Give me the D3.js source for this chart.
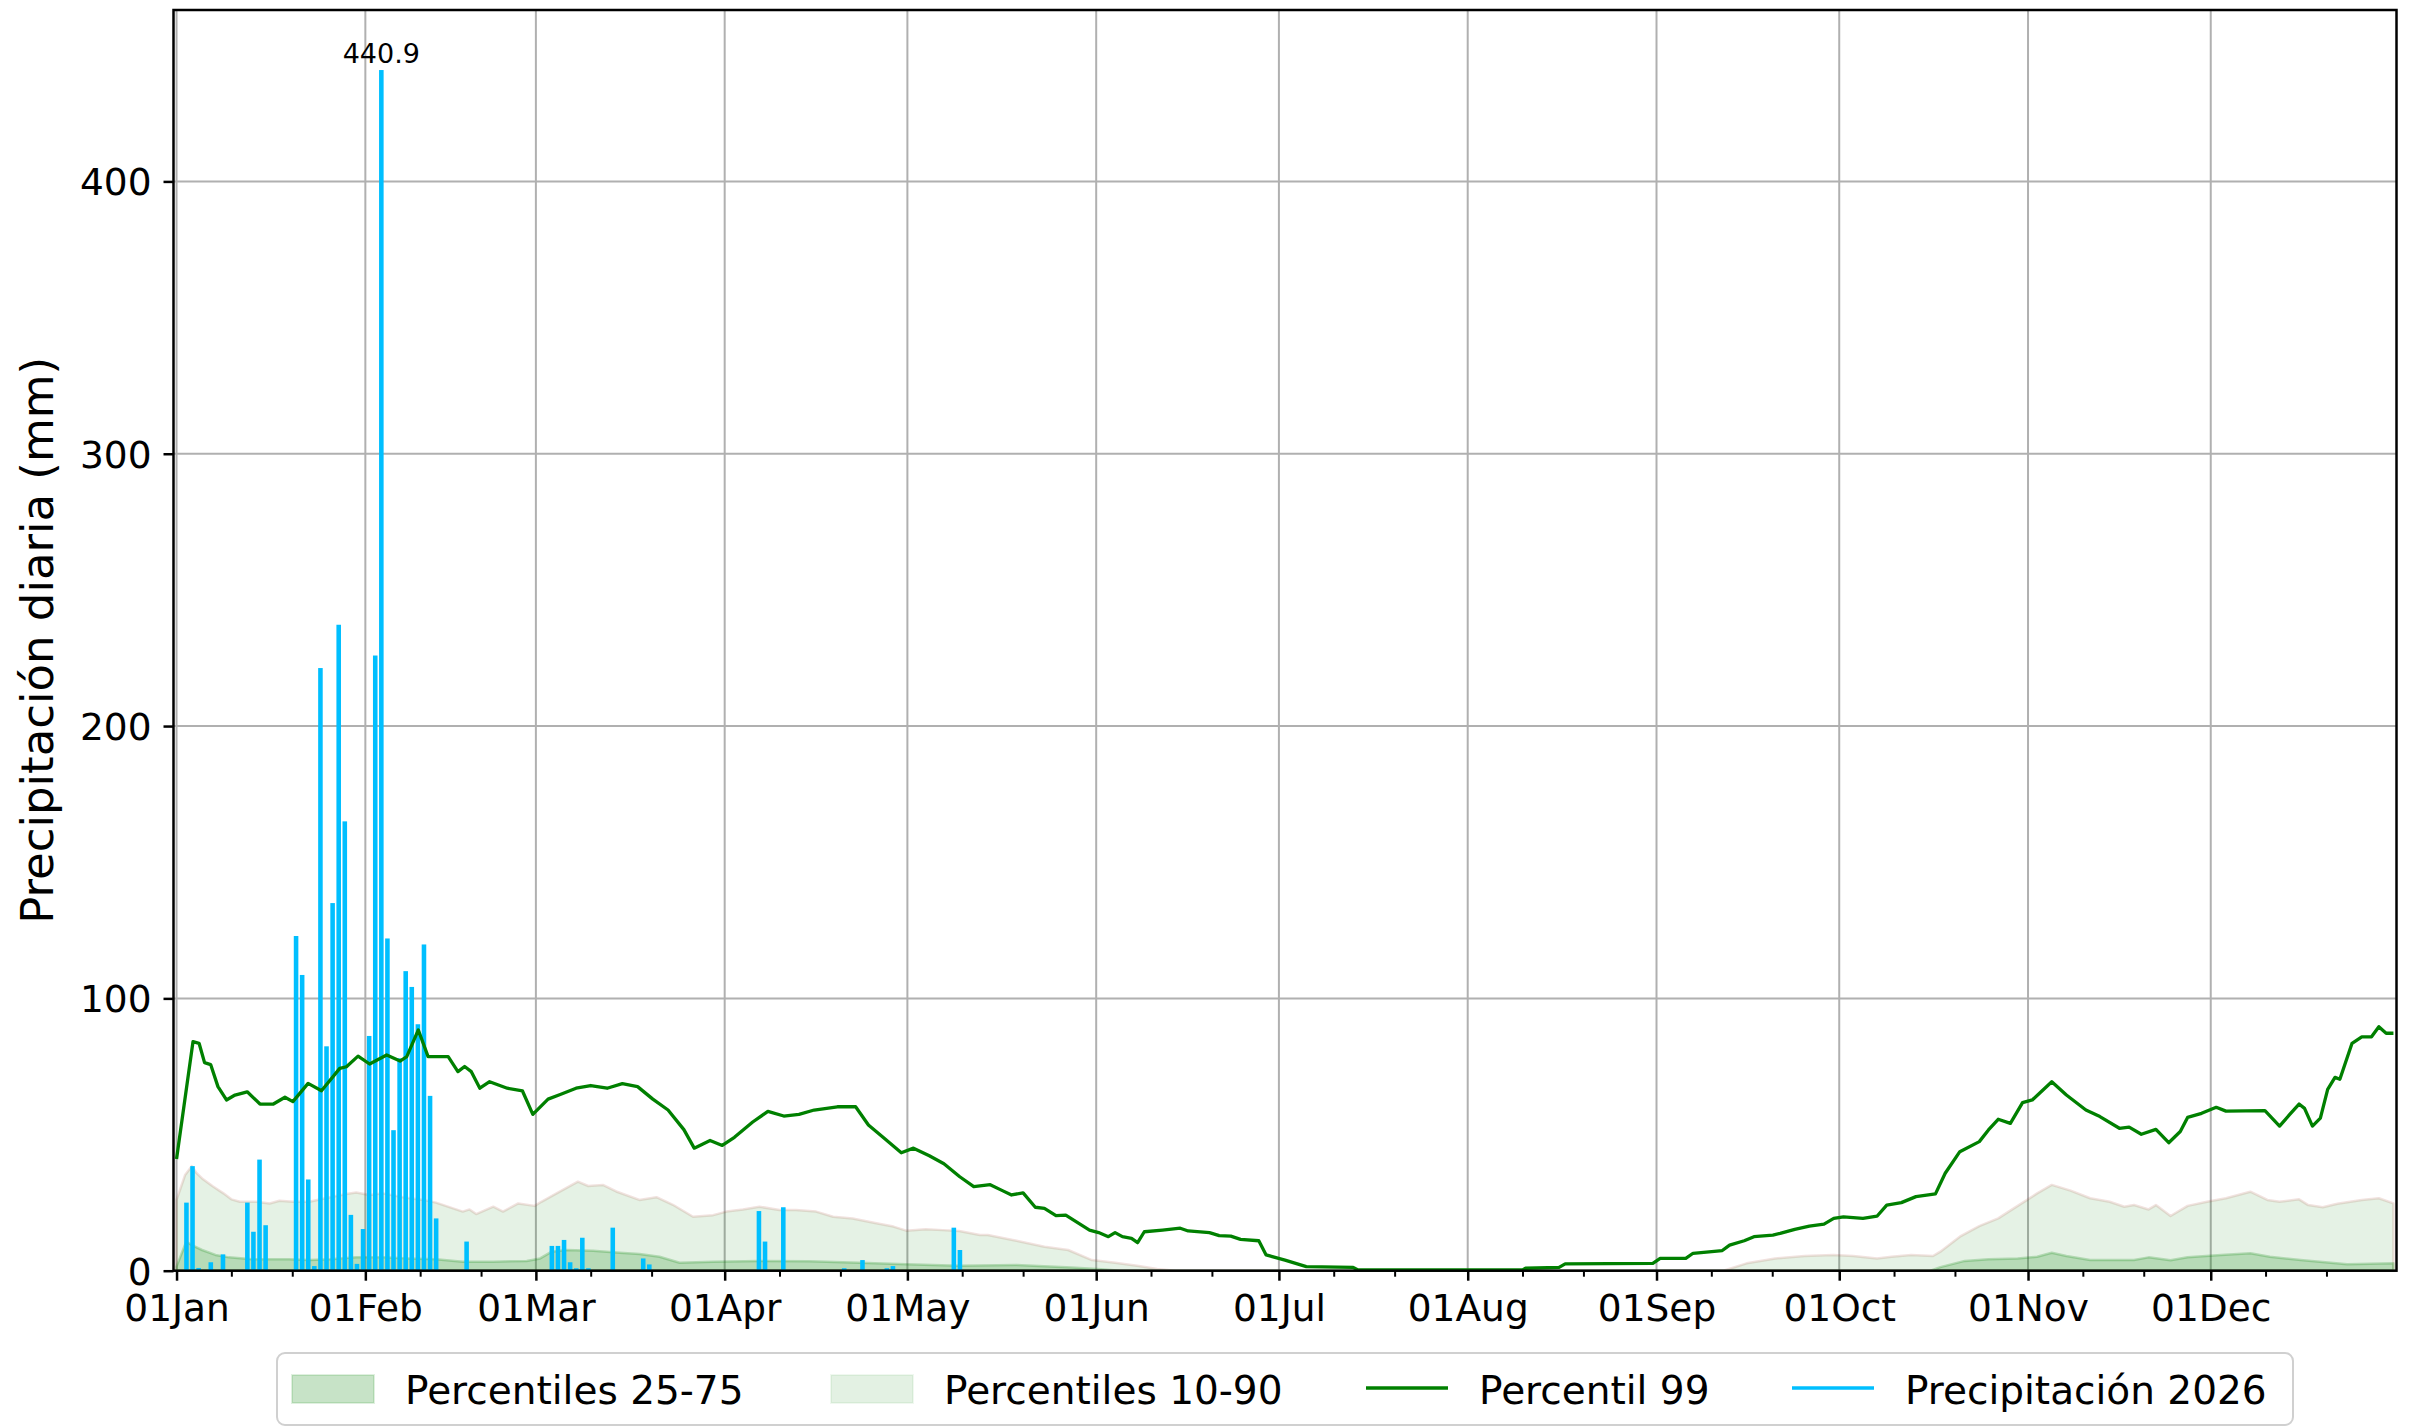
<!DOCTYPE html>
<html>
<head>
<meta charset="utf-8">
<script src="https://cdn.jsdelivr.net/npm/d3@7"></script>
<style>
    body { margin: 0; background: #ffffff; }
    svg { display: block; }
    text { font-family: "DejaVu Sans", sans-serif; fill: #000; }
</style>
</head>
<body>
<div id="chart"></div>
<script>
// daily precipitation 2026 (mm)
const rainDates = [
    "2026-01-02", "2026-01-03", "2026-01-04", "2026-01-06", "2026-01-08",
    "2026-01-12", "2026-01-13", "2026-01-14", "2026-01-15",
    "2026-01-20", "2026-01-21", "2026-01-22", "2026-01-23", "2026-01-24",
    "2026-01-25", "2026-01-26", "2026-01-27", "2026-01-28", "2026-01-29",
    "2026-01-30", "2026-01-31", "2026-02-01", "2026-02-02", "2026-02-03",
    "2026-02-04", "2026-02-05", "2026-02-06", "2026-02-07", "2026-02-08",
    "2026-02-09", "2026-02-10", "2026-02-11", "2026-02-12", "2026-02-17",
    "2026-03-03", "2026-03-04", "2026-03-05", "2026-03-06", "2026-03-07",
    "2026-03-08", "2026-03-09", "2026-03-13", "2026-03-18", "2026-03-19",
    "2026-04-06", "2026-04-07", "2026-04-10", "2026-04-20", "2026-04-23",
    "2026-04-27", "2026-04-28", "2026-05-08", "2026-05-09"
];
const rainValues = [
    25.0, 38.4, 1.0, 3.1, 6.0,
    25.0, 14.3, 40.8, 16.7,
    122.9, 108.6, 33.5, 1.7, 221.3,
    82.4, 135.0, 237.2, 165.0, 20.5,
    2.5, 15.3, 86.2, 225.9, 440.9,
    122.0, 51.6, 78.0, 110.0, 104.2,
    90.5, 119.8, 64.2, 19.2, 10.7,
    9.1, 9.1, 11.3, 3.1, 0.9,
    12.1, 0.9, 15.8, 4.5, 2.3,
    21.9, 10.7, 23.3, 0.9, 3.9,
    0.9, 1.7, 15.8, 7.6
];

// climatology, days counted from 01Jan
const p99Days = [0, 2.7, 3.7, 4.6, 5.6, 6.8, 8.2, 9.6, 11.6, 13.7, 15.9, 17.8, 19.1, 21.6, 23.8, 26.8, 27.9, 29.8, 31.7, 34.5,
    36.7, 37.8, 39.7, 41.3, 44.6, 46.2, 47.3, 48.4, 49.8, 51.4, 54.3, 56.8, 58.5, 61, 63, 65.6, 68, 70.7, 73.2, 75.7,
    78.2, 80.7, 83.3, 85, 87.6, 89.6, 91.6, 94.6, 97.1, 99.7, 102.2, 104.7, 108.5, 111.5, 113.6, 116, 119, 121, 123.6, 126,
    128.6, 130.9, 133.6, 135.6, 137.1, 139, 141, 142.5, 144.4, 146, 149.9, 151.4, 153, 154.1, 155.3, 156.8, 157.8, 158.9, 161.9, 164.8,
    166.1, 169.6, 171.2, 173.1, 174.7, 177.7, 178.9, 182, 185.5, 193.2, 194, 221, 221.5, 227, 228, 242.4, 243.6, 247.8, 249, 253.8,
    255, 257.4, 259, 262.1, 263.3, 265.7, 268.1, 270.5, 272.1, 273.7, 276.9, 279.2, 280.8, 283.2, 285.6, 288.8, 290.4, 292.8, 296, 297.5,
    299.1, 301.1, 303.1, 304.7, 307.9, 310.3, 313.5, 315.8, 319, 320.6, 322.6, 325, 327.1, 329, 330.2, 332.5, 334.9, 336.5, 342.9, 345.3,
    346.9, 348.5, 349.4, 350.7, 352, 353.2, 354.4, 355.2, 357.2, 358.8, 360.4, 361.6, 362.8, 364];
const p99Values = [41, 84.1, 83.5, 76.4, 75.7, 67.6, 62.7, 64.5, 65.7, 61.2, 61.2, 63.7, 62.1, 68.8, 66.1, 74.3, 74.9, 78.8, 75.9, 79.2,
    77, 78.6, 88.4, 78.6, 78.6, 73.1, 75, 73.1, 67, 69.4, 67, 66, 57.4, 63, 64.7, 67, 68, 67, 68.7, 67.6,
    63, 59, 51.8, 45, 47.8, 46, 49, 54.6, 58.5, 56.8, 57.4, 59, 60.2, 60.2, 53.5, 49, 43.3, 45, 42.2, 39.3,
    34.5, 30.9, 31.6, 29.4, 27.8, 28.6, 23.3, 22.9, 20.2, 20.4, 14.9, 14, 12.5, 14, 12.5, 11.9, 10.3, 14.3, 14.9, 15.6,
    14.6, 14, 12.9, 12.7, 11.5, 11, 5.8, 3.9, 1.5, 1.2, 0.3, 0.3, 0.9, 1.2, 2.5, 2.7, 4.5, 4.5, 6.4, 7.4,
    9.4, 11, 12.5, 13.1, 13.7, 15.2, 16.4, 17.1, 19.2, 19.8, 19.2, 20, 24.1, 25, 27.2, 28.2, 35.8, 43.7, 47.4, 51.7,
    55.6, 54.1, 61.7, 62.7, 69.4, 64.5, 59, 56.6, 52.3, 52.7, 50.1, 51.9, 47, 51.1, 56.3, 57.8, 60, 58.6, 58.8, 53.1,
    57.2, 61.2, 59.6, 53.1, 56, 66.6, 71, 70.3, 83.5, 85.9, 85.9, 89.6, 87.2, 87.2];

const p90Days = [0, 1.4, 2.5, 3.3, 4.2, 6, 7.7, 9, 10.4, 13.1, 15.3, 16.9, 19.1, 21.8, 25.2, 27.9, 29.5, 31.7, 33.9, 37.2,
    40.5, 42.6, 45.4, 47, 48.1, 49.2, 52, 53.6, 56.1, 58.8, 59.9, 62.4, 65.9, 67.6, 70, 72.2, 76, 78.8, 81.5, 84.8,
    88.1, 90.3, 93, 95.7, 99, 101.7, 105, 107.8, 111, 114.9, 117.7, 119.8, 123, 125.8, 128.5, 131.9, 133.2, 137.9, 142.5, 146.4,
    150.3, 154.1, 158, 161, 164, 254, 257.8, 262.5, 267.3, 272, 275.3, 279.2, 281.6, 284.8, 288.4, 289.6, 292.8, 296, 299.1, 302.3,
    305.5, 307.9, 311, 314.2, 317.4, 319.8, 321.4, 323.8, 325, 327.4, 330.2, 333.4, 336.5, 340.5, 343.3, 345.3, 348.5, 350, 352.4, 354.8,
    358.8, 361.6, 364];
const p90Values = [26, 35.1, 38.4, 35.8, 33.9, 30.9, 28.4, 26.2, 25.3, 25.3, 24.7, 25.7, 25.3, 25.3, 27, 28.2, 28.7, 27.8, 28.4, 27,
    26, 25, 22.9, 21.7, 22.5, 20.8, 23.5, 21.7, 24.7, 23.8, 25.3, 28.4, 32.7, 31.1, 31.5, 29.1, 26, 27, 24.2, 19.8,
    20.4, 21.7, 22.5, 23.5, 22.3, 22.3, 21.7, 19.8, 19.2, 17.4, 16.2, 14.7, 15.2, 14.9, 14.6, 13.1, 13.1, 11, 8.8, 7.6,
    3.9, 2.9, 1.7, 0.6, 0, 0, 2.7, 4.5, 5.4, 5.8, 5.4, 4.5, 5.1, 5.8, 5.4, 7, 12.5, 16.4, 19.2, 23.8,
    28.4, 31.5, 29.4, 26.6, 25.3, 23.5, 24.1, 22.5, 24.1, 20.1, 23.8, 25.3, 26.6, 29, 26, 25.3, 26.2, 24.1, 23.3, 24.6,
    26, 26.6, 24.7];

const p75Days = [0, 1.6, 2.5, 4.2, 6.4, 8.6, 12.4, 15.1, 18.4, 21.8, 25.2, 29.5, 33.9, 38.2, 42.6, 47, 52, 57.5, 59.7, 61.6,
    64, 68.4, 72.8, 76, 79.3, 82.6, 88.1, 95.7, 103.9, 112.1, 119.8, 128.5, 137.9, 147, 151.8, 155, 288, 289.6, 293.6, 297.5,
    302.3, 305.5, 307.9, 310.3, 314.2, 321.4, 323.8, 327.4, 330.2, 335.7, 340.5, 343.7, 349.2, 356.4, 364];
const p75Values = [1.5, 10.7, 9.4, 7.6, 5.8, 4.9, 4.2, 4.2, 4.2, 3.9, 4.2, 4.9, 4.9, 4.5, 4.2, 3.3, 3.3, 3.6, 4.5, 7,
    7.6, 7.3, 6.6, 6.1, 5.1, 2.9, 3.3, 3.6, 3.5, 2.9, 2.4, 1.8, 2.1, 1.2, 0.5, 0, 0, 1.3, 3.6, 4.2,
    4.5, 5.1, 6.6, 5.4, 3.9, 3.9, 4.9, 3.8, 4.9, 5.8, 6.4, 5.1, 3.8, 2.4, 2.7];

const p25Days = [0, 364];
const p25Values = [0, 0];
const p10Days = [0, 364];
const p10Values = [0, 0];

// axis ticks and legend labels
const monthTickDates = ["2026-01-01", "2026-02-01", "2026-03-01", "2026-04-01", "2026-05-01", "2026-06-01",
    "2026-07-01", "2026-08-01", "2026-09-01", "2026-10-01", "2026-11-01", "2026-12-01"];
const yTickValues = [0, 100, 200, 300, 400];
const legendLabels = ["Percentiles 25-75", "Percentiles 10-90", "Percentil 99", "Precipitación 2026"];

function drawChart() {
    const W = 2410, H = 1427;
    const margin = { top: 10, left: 173.5, right: 13.5, bottom: 156.3 };
    const width = W - margin.left - margin.right;
    const height = H - margin.top - margin.bottom;

    const parse = d3.utcParse("%Y-%m-%d");
    const dayMs = 864e5;
    const t0 = Date.UTC(2026, 0, 1);
    const fromDay = d => new Date(t0 + d * dayMs);

    const svg = d3.select("#chart")
        .append("svg")
        .attr("width", W)
        .attr("height", H);

    const g = svg.append("g")
        .attr("transform", `translate(${margin.left},${margin.top})`);

    // scales
    const x = d3.scaleUtc()
        .domain([fromDay(-0.5), fromDay(364.5)])
        .range([0, width]);
    const yMax = d3.max(rainValues) * 1.05;
    const y = d3.scaleLinear()
        .domain([0, yMax])
        .range([height, 0]);
    const dayPx = x(fromDay(1)) - x(fromDay(0));

    const monthTicks = monthTickDates.map(parse);
    const minorTicks = d3.utcDay.range(fromDay(0), fromDay(365))
        .filter(d => d.getUTCDate() === 10 || d.getUTCDate() === 20);

    // grid
    const grid = g.append("g").attr("stroke", "#b0b0b0").attr("stroke-width", 2);
    grid.selectAll(".vg")
        .data(monthTicks)
        .join("line")
        .attr("x1", d => x(d)).attr("x2", d => x(d))
        .attr("y1", 0).attr("y2", height);
    grid.selectAll(".hg")
        .data(yTickValues)
        .join("line")
        .attr("x1", 0).attr("x2", width)
        .attr("y1", d => y(d)).attr("y2", d => y(d));

    // percentile bands
    const toPts = (days, vals) => days.map((d, i) => [x(fromDay(d)), y(vals[i])]);
    const band = (hiDays, hiVals, loDays, loVals) =>
        d3.line()([...toPts(hiDays, hiVals), ...toPts(loDays, loVals).reverse()]) + "Z";

    g.append("path")
        .attr("d", band(p90Days, p90Values, p10Days, p10Values))
        .attr("fill", "rgba(0,128,0,0.1)")
        .attr("stroke", "rgba(160,60,40,0.15)")
        .attr("stroke-width", 2.5)
        .attr("stroke-linejoin", "round");

    g.append("path")
        .attr("d", band(p75Days, p75Values, p25Days, p25Values))
        .attr("fill", "rgba(0,128,0,0.2)")
        .attr("stroke", "rgba(0,128,0,0.22)")
        .attr("stroke-width", 2.5)
        .attr("stroke-linejoin", "round");

    // precipitation bars
    const rain = rainDates.map((d, i) => ({ date: parse(d), value: rainValues[i] }));
    g.append("g")
        .selectAll("rect")
        .data(rain)
        .join("rect")
        .attr("x", d => x(d.date) + dayPx * 0.25)
        .attr("width", dayPx * 0.75)
        .attr("y", d => y(d.value))
        .attr("height", d => y(0) - y(d.value))
        .attr("fill", "#00bfff");

    // percentile 99 line
    const line = d3.line()
        .x(d => x(fromDay(d[0])))
        .y(d => y(d[1]));
    g.append("path")
        .datum(p99Days.map((d, i) => [d, p99Values[i]]))
        .attr("fill", "none")
        .attr("stroke", "#008000")
        .attr("stroke-width", 3.3)
        .attr("stroke-linejoin", "round")
        .attr("d", line);

    // label on the maximum
    const top = rain.reduce((a, b) => (b.value > a.value ? b : a));
    g.append("text")
        .attr("x", x(top.date) + dayPx * 0.625)
        .attr("y", y(top.value) - 7)
        .attr("text-anchor", "middle")
        .attr("font-size", "27px")
        .text(top.value.toFixed(1));

    // frame
    g.append("rect")
        .attr("width", width)
        .attr("height", height)
        .attr("fill", "none")
        .attr("stroke", "#000")
        .attr("stroke-width", 2.5);

    // axes
    const xAxis = g.append("g")
        .attr("transform", `translate(0,${height})`)
        .call(d3.axisBottom(x)
            .tickValues(monthTicks)
            .tickFormat(d3.utcFormat("%d%b"))
            .tickSize(10)
            .tickSizeOuter(0)
            .tickPadding(13));
    xAxis.select(".domain").remove();
    xAxis.selectAll("line").attr("stroke", "#000").attr("stroke-width", 2.5);
    xAxis.selectAll("text")
        .attr("font-size", "37.5px")
        .attr("font-family", "DejaVu Sans")
        .attr("dy", "0.74em");

    const xMinor = g.append("g")
        .attr("transform", `translate(0,${height})`)
        .call(d3.axisBottom(x)
            .tickValues(minorTicks)
            .tickFormat("")
            .tickSize(6)
            .tickSizeOuter(0));
    xMinor.select(".domain").remove();
    xMinor.selectAll("line").attr("stroke", "#000").attr("stroke-width", 2);

    const yAxis = g.append("g")
        .call(d3.axisLeft(y)
            .tickValues(yTickValues)
            .tickSize(10)
            .tickSizeOuter(0)
            .tickPadding(12));
    yAxis.select(".domain").remove();
    yAxis.selectAll("line").attr("stroke", "#000").attr("stroke-width", 2.5);
    yAxis.selectAll("text")
        .attr("font-size", "37.5px")
        .attr("font-family", "DejaVu Sans")
        .attr("dy", "0.36em");

    // y label
    svg.append("text")
        .attr("transform", `translate(53,${margin.top + height / 2}) rotate(-90)`)
        .attr("text-anchor", "middle")
        .attr("font-size", "45px")
        .text("Precipitación diaria (mm)");

    // legend
    const lg = svg.append("g");
    lg.append("rect")
        .attr("x", 277).attr("y", 1353)
        .attr("width", 2016).attr("height", 72)
        .attr("rx", 8)
        .attr("fill", "rgba(255,255,255,0.8)")
        .attr("stroke", "#d0d0d0")
        .attr("stroke-width", 2);

    const handleX = [292, 831, 1366, 1792];
    const items = lg.selectAll(".item")
        .data(legendLabels)
        .join("g")
        .attr("transform", (d, i) => `translate(${handleX[i]},1388)`);

    items.filter((d, i) => i < 2)
        .append("rect")
        .attr("x", 0).attr("y", -13)
        .attr("width", 82).attr("height", 28)
        .attr("fill", (d, i) => i === 0 ? "rgba(0,128,0,0.22)" : "rgba(0,128,0,0.11)")
        .attr("stroke", (d, i) => i === 0 ? "rgba(0,128,0,0.12)" : "rgba(0,128,0,0.06)")
        .attr("stroke-width", 2);

    items.filter((d, i) => i >= 2)
        .append("line")
        .attr("x1", 0).attr("x2", 82)
        .attr("stroke", (d, i) => i === 0 ? "#008000" : "#00bfff")
        .attr("stroke-width", 3.7);

    items.append("text")
        .attr("x", 113)
        .attr("y", 16)
        .attr("font-size", "39px")
        .text(d => d);
}

drawChart();
</script>
</body>
</html>
